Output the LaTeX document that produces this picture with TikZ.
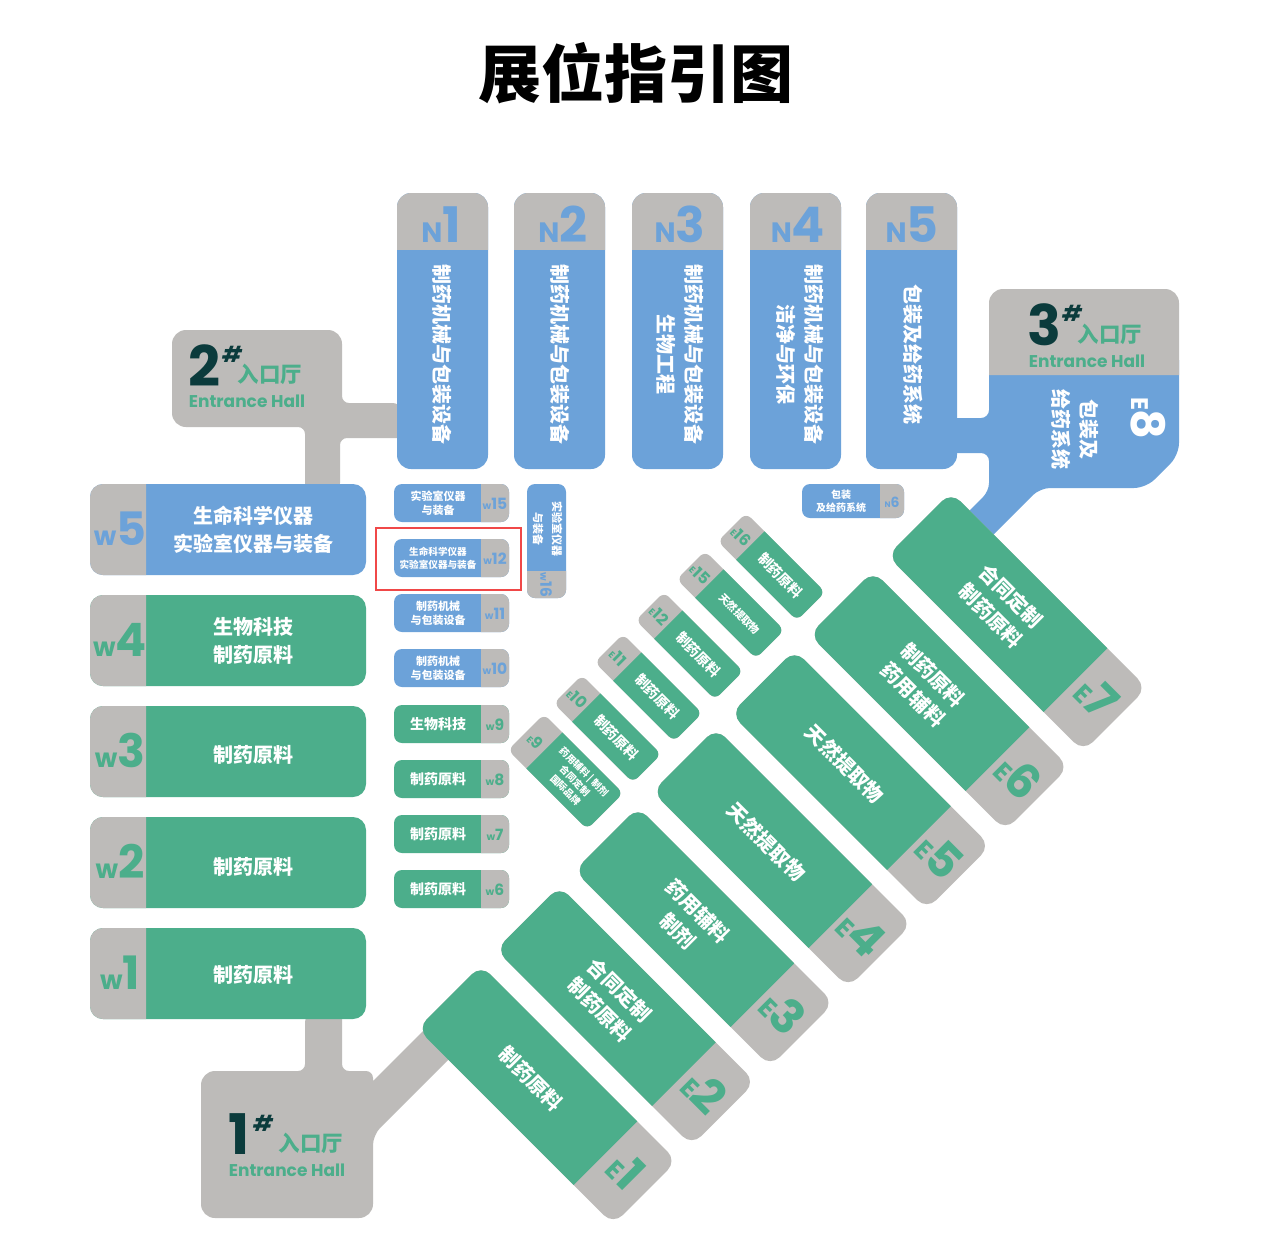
\documentclass[tikz,border=0pt]{standalone}
\usepackage{fontspec}
\newfontfamily\cjkr{Noto Sans CJK SC}
\newfontfamily\latr{Poppins}
\definecolor{hallblue}{HTML}{6CA2D9}
\definecolor{hallgreen}{HTML}{4CAE8B}
\definecolor{hallgray}{HTML}{BDBBB9}
\definecolor{halldark}{HTML}{0B3B3C}
\definecolor{markred}{HTML}{F04848}
\newcommand{\zh}[2]{\cjkr\bfseries\fontsize{#1}{#2}\selectfont}
\newcommand{\lt}[1]{\latr\bfseries\fontsize{#1}{#1}\selectfont}
\newcommand{\lab}[4]{{\lt{#1}#2}{\lt{#3}#4}}
\tikzset{
  zhlabel/.style={text=white,inner sep=0pt,align=center},
  numlabel/.style={inner sep=0pt,align=center},
  bluehall/.style={fill=hallblue},
  greenhall/.style={fill=hallgreen},
  grayhall/.style={fill=hallgray}
}
% diagonal large hall: name, tip x, tip y, digit, text
\newcommand{\bigE}[5]{\begin{scope}[shift={(#2,#3)},rotate=-45]
  \fill[grayhall,rounded corners=13pt] (0,0) rectangle (277,90);
  \begin{scope}\clip (-5,-5) rectangle (221,95);
    \fill[greenhall,rounded corners=13pt] (0,0) rectangle (277,90);\end{scope}
  \node[zhlabel,rotate=-45,font=\zh{20}{28}] (#1) at (116,45) {#5};
  \node[numlabel,rotate=-45,text=hallgreen] (#1lab) at (248,42) {{\lt{26}E}\kern-1pt{\lt{47}#4}};
\end{scope}}
% diagonal small hall: name, tip x, tip y, width, digit, font, text
\newcommand{\smallE}[7]{\begin{scope}[shift={(#2,#3)},rotate=-45]
  \fill[grayhall,rounded corners=7pt] (0,0) rectangle (112,#4);
  \begin{scope}\clip (26,-5) rectangle (120,#4+5);
    \fill[greenhall,rounded corners=7pt] (0,0) rectangle (112,#4);\end{scope}
  \node[zhlabel,rotate=-45,font=#6] (#1) at (69,#4/2) {#7};
  \node[numlabel,rotate=-45,text=hallgreen] (#1lab) at (13,#4/2) {\lab{9}{E}{16}{#5}};
\end{scope}}
% north hall: name, left x, label centre x, digit, text x, text
\newcommand{\nhall}[6]{
  \fill[bluehall,rounded corners=14pt] (#2,193) rectangle (#2+91,469);
  \begin{scope}\clip (#2-1,190) rectangle (#2+92,249);
    \fill[grayhall,rounded corners=14pt] (#2,193) rectangle (#2+91,469);\end{scope}
  \node[numlabel,anchor=base,text=hallblue] (#1lab) at (#3,242) {\lab{28}{N}{49}{#4}};
  \node[zhlabel,rotate=-90,font=\zh{20}{28}] (#1) at (#5,354) {#6};
}
% west hall: name, top y, digit, colour, text, text y offset
\newcommand{\whall}[6]{
  \fill[fill=#4,rounded corners=13pt] (90,#2) rectangle (366,#2+91);
  \begin{scope}\clip (85,#2-1) rectangle (146,#2+92);
    \fill[grayhall,rounded corners=13pt] (90,#2) rectangle (366,#2+91);\end{scope}
  \node[numlabel,anchor=base,text=#4] (#1lab) at (120,#2+61) {\lab{26}{w}{46}{#3}};
  \node[zhlabel,font=\zh{20}{28}] (#1) at (253,#2+45.5+#6) {#5};
}
% small west hall: name, top y, digits, colour, font, text
\newcommand{\swhall}[6]{
  \fill[fill=#4,rounded corners=8pt] (394,#2) rectangle (509,#2+38);
  \begin{scope}\clip (481,#2-1) rectangle (510,#2+39);
    \fill[grayhall,rounded corners=8pt] (394,#2) rectangle (509,#2+38);\end{scope}
  \node[numlabel,anchor=base,text=#4] (#1lab) at (495,#2+25) {\lab{10}{w}{15.5}{#3}};
  \node[zhlabel,font=#5] (#1) at (438,#2+19) {#6};
}
\begin{document}
\begin{tikzpicture}[x=1pt,y=-1pt]
\useasboundingbox (0,0) rectangle (1266,1253);
\fill[white] (0,0) rectangle (1266,1253);
\node[inner sep=0pt,font=\zh{63}{63},text=black] (title) at (636,73) {展位指引图};

% entrance 2
\fill[grayhall] (172,378) [rounded corners=14pt] -- (172,330) -- (342,330) [rounded corners=7pt] -- (342,403) -- (400,403) [sharp corners] -- (400,438) [rounded corners=7pt] -- (340,438) -- (340,490) [sharp corners] -- (305,490) [rounded corners=7pt] -- (305,427) [rounded corners=14pt] -- (172,427) -- cycle;
% entrance 1
\fill[grayhall] (201,1145) [rounded corners=14pt] -- (201,1071) [rounded corners=7pt] -- (305,1071) -- (305,1015) [sharp corners] -- (342,1015) [rounded corners=7pt] -- (342,1071) -- (373,1071) [sharp corners] -- (373,1081) -- (440,1014) -- (465,1043) [rounded corners=10pt] -- (373,1135) [rounded corners=14pt] -- (373,1218) -- (201,1218) -- cycle;
% entrance 3 with E8
\fill[bluehall] (1179,360) [rounded corners=12pt] -- (1179,455) -- (1146,488) [rounded corners=10pt] -- (1040,488) [sharp corners] -- (990,538) -- (960,520) [rounded corners=8pt] -- (989,491) -- (989,453) [sharp corners] -- (950,453) -- (950,418) [rounded corners=8pt] -- (989,418) [sharp corners] -- (989,360) -- cycle;
\fill[grayhall] (989,375) [rounded corners=14pt] -- (989,289) -- (1179,289) [sharp corners] -- (1179,375) -- cycle;

% west halls
\whall{w5}{484}{5}{hallblue}{生命科学仪器\\实验室仪器与装备}{0}
\whall{w4}{595}{4}{hallgreen}{生物科技\\制药原料}{0}
\whall{w3}{706}{3}{hallgreen}{制药原料}{3}
\whall{w2}{817}{2}{hallgreen}{制药原料}{4}
\whall{w1}{928}{1}{hallgreen}{制药原料}{1.5}

% north halls
\nhall{n1}{397}{441}{1}{442}{制药机械与包装设备}
\nhall{n2}{514}{563}{2}{560.5}{制药机械与包装设备}
\nhall{n3}{632}{680}{3}{680}{制药机械与包装设备\\生物工程}
\nhall{n4}{750}{798}{4}{800}{制药机械与包装设备\\洁净与环保}
\nhall{n5}{866}{912}{5}{913}{包装及给药系统}

% small west halls
\swhall{w15}{484}{15}{hallblue}{\zh{11}{14}}{实验室仪器\\与装备}
\swhall{w12}{539}{12}{hallblue}{\zh{9.6}{13}}{生命科学仪器\\实验室仪器与装备}
\swhall{w11}{594}{11}{hallblue}{\zh{11}{14}}{制药机械\\与包装设备}
\swhall{w10}{649}{10}{hallblue}{\zh{11}{14}}{制药机械\\与包装设备}
\swhall{w9}{705}{9}{hallgreen}{\zh{14}{14}}{生物科技}
\swhall{w8}{760}{8}{hallgreen}{\zh{14}{14}}{制药原料}
\swhall{w7}{815}{7}{hallgreen}{\zh{14}{14}}{制药原料}
\swhall{w6}{870}{6}{hallgreen}{\zh{14}{14}}{制药原料}

% w16
\fill[bluehall,rounded corners=8pt] (527,484) rectangle (566,598);
\begin{scope}\clip (526,571) rectangle (567,600);
\fill[grayhall,rounded corners=8pt] (527,484) rectangle (566,598);\end{scope}
\node[zhlabel,rotate=-90,font=\zh{11}{19}] (w16) at (547.5,529) {实验室仪器\\与装备};
\node[numlabel,rotate=-90,text=hallblue] (w16lab) at (546,585) {\lab{10}{w}{15.5}{16}};

% n6
\fill[bluehall,rounded corners=8pt] (802,484) rectangle (904,518);
\begin{scope}\clip (880,483) rectangle (905,519);
\fill[grayhall,rounded corners=8pt] (802,484) rectangle (904,518);\end{scope}
\node[zhlabel,font=\zh{10}{13}] (n6) at (841,501) {包装\\及给药系统};
\node[numlabel,anchor=base,text=hallblue] (n6lab) at (892,507) {\lab{8}{N}{14}{6}};

% diagonal halls
\bigE{e1}{481}{965}{1}{制药原料}
\bigE{e2}{559.5}{886}{2}{合同定制\\制药原料}
\bigE{e3}{638}{807}{3}{药用辅料\\制剂}
\bigE{e4}{716}{728}{4}{天然提取物}
\bigE{e5}{794.5}{650}{5}{天然提取物}
\bigE{e6}{873}{571}{6}{制药原料\\药用辅料}
\bigE{e7}{951}{492}{7}{合同定制\\制药原料}

\smallE{e9}{544}{714}{51}{9}{\zh{9.5}{13}}{药用辅料 | 制剂\\合同定制\\国际品牌}
\smallE{e10}{582}{675}{40}{10}{\zh{14}{14}}{制药原料}
\smallE{e11}{623}{634}{40}{11}{\zh{14}{14}}{制药原料}
\smallE{e12}{664}{592}{40}{12}{\zh{14}{14}}{制药原料}
\smallE{e15}{705}{551}{40}{15}{\zh{10.5}{14}}{天然提取物}
\smallE{e16}{746}{513}{40}{16}{\zh{14}{14}}{制药原料}

% E8 labels
\node[zhlabel,rotate=-90,font=\zh{20}{28}] (e8) at (1075,429) {包装及\\给药系统};
\node[numlabel,rotate=-90,text=white] (e8lab) at (1148,418) {{\lt{24}E}\kern-1pt{\lt{46}8}};

% entrance texts
\node[numlabel,text=halldark,font=\lt{56}] (h2n) at (204,366) {2};
\node[numlabel,text=halldark,font=\lt{22}\itshape] (h2s) at (232,354) {\#};
\node[numlabel,text=hallgreen,font=\zh{21.5}{22}] (h2z) at (270,374) {入口厅};
\node[numlabel,text=hallgreen,font=\lt{17}] (h2e) at (247,401) {Entrance Hall};

\node[numlabel,text=halldark,font=\lt{56}] (h3n) at (1044,325) {3};
\node[numlabel,text=halldark,font=\lt{22}\itshape] (h3s) at (1072,313) {\#};
\node[numlabel,text=hallgreen,font=\zh{21.5}{22}] (h3z) at (1110,334) {入口厅};
\node[numlabel,text=hallgreen,font=\lt{17}] (h3e) at (1087,361) {Entrance Hall};

\node[numlabel,text=halldark,font=\lt{56}] (h1n) at (239,1134) {1};
\node[numlabel,text=halldark,font=\lt{22}\itshape] (h1s) at (263,1123) {\#};
\node[numlabel,text=hallgreen,font=\zh{21.5}{22}] (h1z) at (311,1143) {入口厅};
\node[numlabel,text=hallgreen,font=\lt{17}] (h1e) at (287,1170) {Entrance Hall};

% red marker
\draw[markred,line width=2.3pt] (376,528) rectangle (521,590);
\end{tikzpicture}
\end{document}
